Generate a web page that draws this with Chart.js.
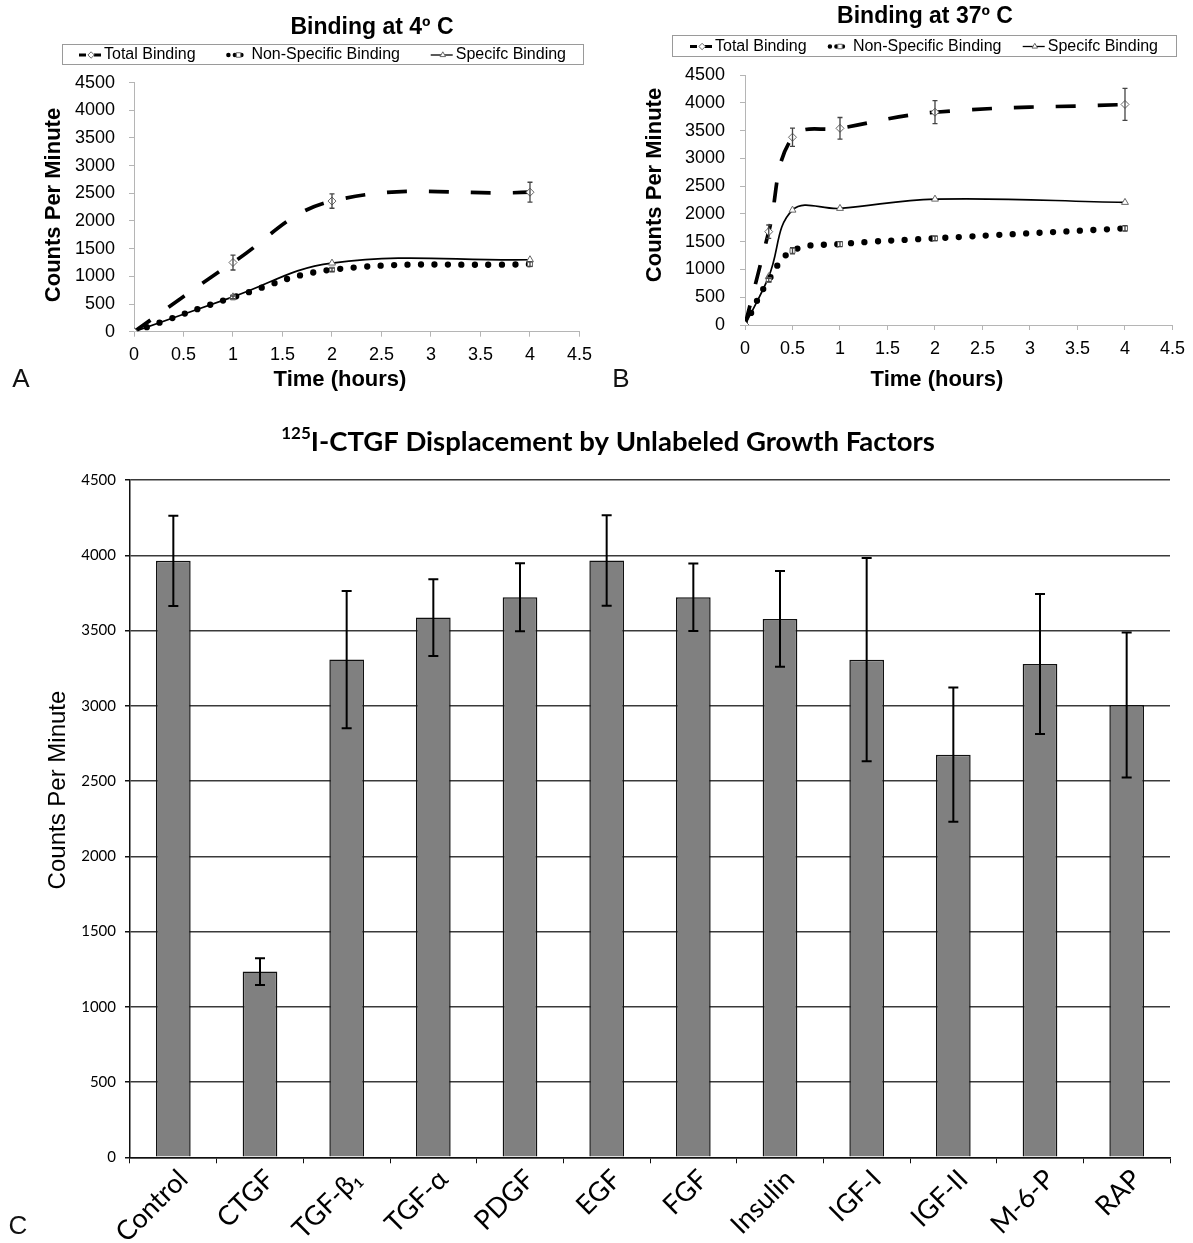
<!DOCTYPE html>
<html>
<head>
<meta charset="utf-8">
<title>CTGF binding</title>
<script src="https://cdn.jsdelivr.net/npm/chart.js"></script>
<style>
  html, body { margin: 0; padding: 0; background: #fff; }
  body { position: relative; width: 1193px; height: 1243px; overflow: hidden; }
  .panel { position: absolute; }
  #wrapA { left: 0; top: 0; }
  #wrapB { left: 600px; top: 0; }
  #wrapC { left: 0; top: 400px; }
  .tag { position: absolute; font-family: "Liberation Sans", Arial, sans-serif; font-size: 26px; color: #111;
         line-height: 26px; transform: translate(-50%, -50%); }
</style>
</head>
<body>
<div class="panel" id="wrapA"><canvas id="chartA" width="600" height="400"></canvas></div>
<div class="panel" id="wrapB"><canvas id="chartB" width="593" height="400"></canvas></div>
<div class="panel" id="wrapC"><canvas id="chartC" width="1193" height="843"></canvas></div>
<div class="tag" style="left:21px;top:378px">A</div>
<div class="tag" style="left:621px;top:378px">B</div>
<div class="tag" style="left:18px;top:1225px">C</div>

<script>
// ---- axis ticks ----
const hourTicks = [0, 0.5, 1, 1.5, 2, 2.5, 3, 3.5, 4, 4.5];
const cpmTicks = [0, 500, 1000, 1500, 2000, 2500, 3000, 3500, 4000, 4500];

// ---- binding at 4 °C ----
const hours4 = [0, 1, 2, 4];
const total4 = [0, 1250, 2360, 2520];
const total4Err = [0, 135, 130, 180];
const nonSpecific4 = [0, 620, 1120, 1220];
const nonSpecific4Err = [0, 25, 30, 40];
const specific4 = [0, 630, 1240, 1300];

// ---- binding at 37 °C ----
const hours37 = [0, 0.25, 0.5, 1, 2, 4];
const total37 = [0, 1680, 3380, 3540, 3830, 3970];
const total37Err = [0, 120, 165, 195, 207, 288];
const nonSpecific37 = [0, 810, 1336, 1457, 1560, 1740];
const nonSpecific37Err = [0, 30, 55, 45, 40, 50];
const specific37 = [0, 870, 2068, 2099, 2266, 2207];

// ---- displacement by unlabeled growth factors ----
const factors = ['Control', 'CTGF', 'TGF-β₁', 'TGF-α', 'PDGF', 'EGF', 'FGF', 'Insulin', 'IGF-I', 'IGF-II', 'M-6-P', 'RAP'];
const displacedCpm = [3963, 1234, 3307, 3586, 3721, 3965, 3721, 3577, 3306, 2675, 3277, 3005];
const displacedErr = [300, 89, 456, 255, 226, 300, 225, 318, 675, 446, 465, 481];

const seriesNames = ['Total Binding', 'Non-Specific Binding', 'Specifc Binding'];

Chart.defaults.font.family = '"Liberation Sans", Arial, sans-serif';
Chart.defaults.color = '#000';

const ARIAL = '"Liberation Sans", Arial, sans-serif';
const CALI = 'Lato, "Open Sans", sans-serif';

const pts = (xs, ys) => xs.map((x, i) => ({ x, y: ys[i] }));
const valueAt = (ds, i) => { const d = ds.data[i]; return (d !== null && typeof d === 'object') ? d.y : d; };

// Vertical error bars with caps, drawn through the y scale
const errorBarPlugin = {
  id: 'errorBars',
  afterDatasetsDraw(chart, args, opts) {
    const ctx = chart.ctx;
    const yScale = chart.scales.y;
    chart.data.datasets.forEach((ds, di) => {
      if (!ds.errorBars) return;
      const meta = chart.getDatasetMeta(di);
      if (meta.hidden) return;
      ctx.save();
      ctx.strokeStyle = opts.color;
      ctx.lineWidth = opts.width;
      ctx.lineCap = 'butt';
      meta.data.forEach((el, i) => {
        const err = ds.errorBars[i];
        if (!err) return;
        const v = valueAt(ds, i);
        const yTop = yScale.getPixelForValue(v + err);
        const yBot = yScale.getPixelForValue(v - err);
        const x = el.x;
        ctx.beginPath();
        ctx.moveTo(x, yTop); ctx.lineTo(x, yBot);
        ctx.moveTo(x - opts.cap, yTop); ctx.lineTo(x + opts.cap, yTop);
        ctx.moveTo(x - opts.cap, yBot); ctx.lineTo(x + opts.cap, yBot);
        ctx.stroke();
      });
      ctx.restore();
    });
  }
};

// Small legend sample: line style of the series plus its marker
function drawSample(ctx, ds, x, yc, w) {
  ctx.save();
  ctx.strokeStyle = '#000';
  ctx.beginPath();
  if (ds.borderDash && ds.borderDash.length && ds.borderDash[0] === 0) {
    ctx.lineWidth = 4.5; ctx.lineCap = 'round'; ctx.setLineDash([0, 6.5]);
    ctx.moveTo(x + 2, yc); ctx.lineTo(x + w - 1, yc);
  } else if (ds.borderDash && ds.borderDash.length) {
    ctx.lineWidth = 3; ctx.lineCap = 'butt';
    ctx.moveTo(x, yc); ctx.lineTo(x + 7, yc);
    ctx.moveTo(x + w - 7, yc); ctx.lineTo(x + w, yc);
  } else {
    ctx.lineWidth = 1.3;
    ctx.moveTo(x, yc); ctx.lineTo(x + w, yc);
  }
  ctx.stroke();
  ctx.restore();
  ctx.save();
  ctx.fillStyle = '#fff';
  ctx.strokeStyle = ds.pointBorderColor || '#555';
  ctx.lineWidth = 1;
  Chart.helpers.drawPoint(ctx, { pointStyle: ds.pointStyle, radius: 3.2, rotation: 0, borderWidth: 1 }, x + w * 0.55, yc);
  ctx.restore();
}

// Titles, axis captions and a framed legend placed on the canvas
const panelTextPlugin = {
  id: 'panelText',
  afterDraw(chart, args, opts) {
    const ctx = chart.ctx;
    (opts.items || []).forEach(it => {
      ctx.save();
      ctx.translate(it.x, it.y);
      if (it.rotate) ctx.rotate(it.rotate * Math.PI / 180);
      ctx.fillStyle = '#000';
      ctx.textBaseline = 'middle';
      if (it.parts) {
        let total = 0;
        it.parts.forEach(p => { ctx.font = p.font; total += ctx.measureText(p.text).width; });
        let x = -total / 2;
        ctx.textAlign = 'left';
        it.parts.forEach(p => {
          ctx.font = p.font;
          ctx.fillText(p.text, x, p.dy || 0);
          x += ctx.measureText(p.text).width;
        });
      } else {
        ctx.textAlign = 'center';
        ctx.font = it.font;
        ctx.fillText(it.text, 0, 0);
      }
      ctx.restore();
    });
    const lg = opts.legend;
    if (lg) {
      ctx.save();
      ctx.strokeStyle = '#9a9a9a';
      ctx.lineWidth = 1;
      ctx.strokeRect(lg.left + 0.5, lg.top + 0.5, lg.width, lg.height);
      ctx.font = lg.font;
      ctx.textBaseline = 'middle';
      ctx.textAlign = 'left';
      ctx.fillStyle = '#000';
      const sw = 22, sg = 3;
      const items = chart.data.datasets.map(ds => ({ ds, tw: ctx.measureText(ds.label).width }));
      const used = items.reduce((s, it) => s + sw + sg + it.tw, 0);
      const gap = (lg.width - 2 * lg.margin - used) / (items.length - 1);
      const yc = lg.top + lg.height / 2 + 1;
      let x = lg.left + lg.margin;
      items.forEach(it => {
        drawSample(ctx, it.ds, x, yc, sw);
        ctx.font = lg.font;
        ctx.fillStyle = '#000';
        ctx.fillText(it.ds.label, x + sw + sg, yc);
        x += sw + sg + it.tw + gap;
      });
      ctx.restore();
    }
  }
};

function timeCourseSets(hours, total, totalErr, ns, nsErr, sp) {
  return [
    { label: seriesNames[0], data: pts(hours, total), errorBars: totalErr,
      borderColor: '#000', borderWidth: 3.7, borderDash: [20, 22], tension: 0.4,
      pointStyle: 'rectRot', pointRadius: 4, pointBackgroundColor: '#fff',
      pointBorderColor: '#666', pointBorderWidth: 1 },
    { label: seriesNames[1], data: pts(hours, ns), errorBars: nsErr,
      borderColor: '#000', borderWidth: 6.3, borderDash: [0, 13.5], borderCapStyle: 'round', tension: 0.4,
      pointStyle: 'rect', pointRadius: 3.5, pointBackgroundColor: '#fff',
      pointBorderColor: '#666', pointBorderWidth: 1 },
    { label: seriesNames[2], data: pts(hours, sp),
      borderColor: '#000', borderWidth: 1.7, tension: 0.4,
      pointStyle: 'triangle', pointRadius: 4, pointBackgroundColor: '#fff',
      pointBorderColor: '#666', pointBorderWidth: 1 }
  ];
}

function timeCourseOptions(cfg) {
  const axisGrid = { display: true, drawOnChartArea: false, drawTicks: true, tickLength: 5, tickColor: '#b5b5b5' };
  const axisBorder = { display: true, color: '#b5b5b5', width: 1 };
  return {
    responsive: false,
    animation: false,
    layout: { padding: { top: cfg.top, right: cfg.right, bottom: 0, left: 0 } },
    plugins: {
      legend: { display: false },
      tooltip: { enabled: false },
      errorBars: { color: '#444', width: 1.3, cap: 2.5 },
      panelText: {
        items: [
          { text: cfg.title, x: cfg.titleX, y: cfg.titleY, font: 'bold 23px ' + ARIAL },
          { text: 'Counts Per Minute', x: cfg.yTitleX, y: cfg.yTitleY, rotate: -90, font: 'bold 22px ' + ARIAL },
          { text: 'Time (hours)', x: cfg.xTitleX, y: 380, font: 'bold 22px ' + ARIAL }
        ],
        legend: cfg.legend
      }
    },
    scales: {
      x: {
        type: 'linear', min: 0, max: 4.5,
        afterBuildTicks: s => { s.ticks = hourTicks.map(v => ({ value: v })); },
        afterFit: s => { s.height = 400 - cfg.bottom; },
        grid: axisGrid, border: axisBorder,
        ticks: { font: { size: 18 }, color: '#000', padding: 8, maxRotation: 0, autoSkip: false, callback: v => String(v) }
      },
      y: {
        min: 0, max: 4500,
        afterBuildTicks: s => { s.ticks = cpmTicks.map(v => ({ value: v })); },
        afterFit: s => { s.width = cfg.left; },
        grid: axisGrid, border: axisBorder,
        ticks: { font: { size: 18 }, color: '#000', padding: cfg.yPad, autoSkip: false, callback: v => String(v) }
      }
    }
  };
}

new Chart(document.getElementById('chartA'), {
  type: 'line',
  data: { datasets: timeCourseSets(hours4, total4, total4Err, nonSpecific4, nonSpecific4Err, specific4) },
  options: timeCourseOptions({
    title: 'Binding at 4º C', titleX: 372, titleY: 28,
    top: 82.6, bottom: 331.7, left: 134, right: 19, yPad: 14,
    yTitleX: 54, yTitleY: 205, xTitleX: 340,
    legend: { left: 62, top: 44, width: 521, height: 20, margin: 17, font: '16px ' + ARIAL }
  }),
  plugins: [errorBarPlugin, panelTextPlugin]
});

new Chart(document.getElementById('chartB'), {
  type: 'line',
  data: { datasets: timeCourseSets(hours37, total37, total37Err, nonSpecific37, nonSpecific37Err, specific37) },
  options: timeCourseOptions({
    title: 'Binding at 37º C', titleX: 325, titleY: 17,
    top: 75, bottom: 325, left: 145, right: 14, yPad: 15,
    yTitleX: 55, yTitleY: 185, xTitleX: 337,
    legend: { left: 72, top: 35, width: 504, height: 21, margin: 18, font: '16px ' + ARIAL }
  }),
  plugins: [errorBarPlugin, panelTextPlugin]
});

new Chart(document.getElementById('chartC'), {
  type: 'bar',
  data: {
    labels: factors,
    datasets: [{
      data: displacedCpm, errorBars: displacedErr,
      backgroundColor: '#808080', borderColor: '#111', borderWidth: 1.5,
      barPercentage: 0.4, categoryPercentage: 1
    }]
  },
  options: {
    responsive: false,
    animation: false,
    layout: { padding: { top: 80, right: 23, bottom: 0, left: 0 } },
    plugins: {
      legend: { display: false },
      tooltip: { enabled: false },
      errorBars: { color: '#000', width: 2, cap: 5 },
      panelText: {
        items: [
          { x: 608, y: 42, parts: [
            { text: '125', font: 'bold 17px ' + CALI, dy: -8 },
            { text: 'I-CTGF Displacement by Unlabeled Growth Factors', font: 'bold 27.5px ' + CALI }
          ] },
          { text: 'Counts Per Minute', x: 58, y: 390, rotate: -90, font: '24px ' + ARIAL }
        ]
      }
    },
    scales: {
      x: {
        afterFit: s => { s.height = 843 - 757.3; },
        grid: { display: true, drawOnChartArea: false, drawTicks: true, tickLength: 6, tickColor: '#111', offset: true },
        border: { display: true, color: '#111', width: 1.5 },
        ticks: { font: { family: CALI, size: 27 }, color: '#000', minRotation: 45, maxRotation: 45,
                 padding: 0, labelOffset: 10, autoSkip: false }
      },
      y: {
        min: 0, max: 4500,
        afterBuildTicks: s => { s.ticks = cpmTicks.map(v => ({ value: v })); },
        afterFit: s => { s.width = 130; },
        grid: { color: '#3a3a3a', lineWidth: 1.5, drawTicks: true, tickLength: 5, tickColor: '#111' },
        border: { display: true, color: '#111', width: 1.5 },
        ticks: { font: { family: CALI, size: 15 }, color: '#000', padding: 9, autoSkip: false, callback: v => String(v) }
      }
    }
  },
  plugins: [errorBarPlugin, panelTextPlugin]
});
</script>
</body>
</html>
